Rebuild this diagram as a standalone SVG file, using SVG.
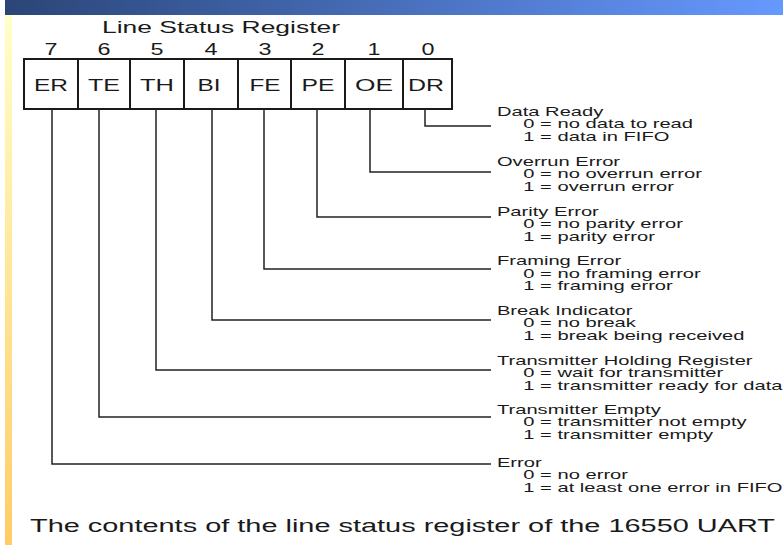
<svg xmlns="http://www.w3.org/2000/svg" width="783" height="545" viewBox="0 0 783 545">
<defs>
<linearGradient id="topbar" x1="0" y1="0" x2="1" y2="0">
<stop offset="0" stop-color="#2b4577"/>
<stop offset="1" stop-color="#6699ff"/>
</linearGradient>
<linearGradient id="side" x1="0" y1="0" x2="0" y2="1">
<stop offset="0" stop-color="#ffffc8"/>
<stop offset="1" stop-color="#ffcc66"/>
</linearGradient>
<style>
text{font-family:"Liberation Sans",Arial,Helvetica,sans-serif;fill:#1a1a1a}
.cell{fill:none;stroke:#1a1a1a;stroke-width:2}
.cl{font-size:17px;text-anchor:middle}
.bit{font-size:16px;text-anchor:middle}
.ttl{font-size:17px}
.d{font-size:12px}
.cap{font-size:18px}
.conn path{fill:none;stroke:#222;stroke-width:1.5}
</style>
</defs>
<rect width="783" height="545" fill="#ffffff"/>
<rect x="5" y="0" width="778" height="15" fill="url(#topbar)"/>
<rect x="5" y="15" width="7" height="530" fill="url(#side)"/>

<g id="title"><text class="ttl" x="102" y="33" textLength="238" lengthAdjust="spacingAndGlyphs">Line Status Register</text></g>

<g id="bit-numbers">
<text class="bit" x="51" y="55" textLength="13" lengthAdjust="spacingAndGlyphs">7</text>
<text class="bit" x="104" y="55" textLength="13" lengthAdjust="spacingAndGlyphs">6</text>
<text class="bit" x="157" y="55" textLength="13" lengthAdjust="spacingAndGlyphs">5</text>
<text class="bit" x="211" y="55" textLength="13" lengthAdjust="spacingAndGlyphs">4</text>
<text class="bit" x="265" y="55" textLength="13" lengthAdjust="spacingAndGlyphs">3</text>
<text class="bit" x="318" y="55" textLength="13" lengthAdjust="spacingAndGlyphs">2</text>
<text class="bit" x="374" y="55" textLength="13" lengthAdjust="spacingAndGlyphs">1</text>
<text class="bit" x="428" y="55" textLength="13" lengthAdjust="spacingAndGlyphs">0</text>
</g>

<g id="cell-ER"><rect class="cell" x="24" y="59" width="54" height="50"/><text class="cl" x="51" y="91" textLength="34" lengthAdjust="spacingAndGlyphs">ER</text></g>
<g id="cell-TE"><rect class="cell" x="78" y="59" width="52" height="50"/><text class="cl" x="104" y="91" textLength="32" lengthAdjust="spacingAndGlyphs">TE</text></g>
<g id="cell-TH"><rect class="cell" x="130" y="59" width="54" height="50"/><text class="cl" x="157" y="91" textLength="34" lengthAdjust="spacingAndGlyphs">TH</text></g>
<g id="cell-BI"><rect class="cell" x="184" y="59" width="54" height="50"/><text class="cl" x="209" y="91" textLength="23" lengthAdjust="spacingAndGlyphs">BI</text></g>
<g id="cell-FE"><rect class="cell" x="238" y="59" width="53" height="50"/><text class="cl" x="265" y="91" textLength="31" lengthAdjust="spacingAndGlyphs">FE</text></g>
<g id="cell-PE"><rect class="cell" x="291" y="59" width="54" height="50"/><text class="cl" x="318" y="91" textLength="33" lengthAdjust="spacingAndGlyphs">PE</text></g>
<g id="cell-OE"><rect class="cell" x="345" y="59" width="58" height="50"/><text class="cl" x="374" y="91" textLength="38" lengthAdjust="spacingAndGlyphs">OE</text></g>
<g id="cell-DR"><rect class="cell" x="403" y="59" width="49" height="50"/><text class="cl" x="426" y="91" textLength="36" lengthAdjust="spacingAndGlyphs">DR</text></g>

<g id="connectors" class="conn">
<path d="M425 109 V126 H491"/>
<path d="M370 109 V172 H491"/>
<path d="M317 109 V217 H491"/>
<path d="M264 109 V269 H491"/>
<path d="M212 109 V320 H491"/>
<path d="M156 109 V370 H491"/>
<path d="M99 109 V417 H491"/>
<path d="M52 109 V464 H491"/>
</g>

<g id="desc-DR" transform="scale(1.68 1)">
<text class="d" x="295.8" y="116">Data Ready</text>
<text class="d" x="311.5" y="128.5">0 = no data to read</text>
<text class="d" x="311.5" y="141">1 = data in FIFO</text>
</g>
<g id="desc-OE" transform="scale(1.68 1)">
<text class="d" x="295.8" y="166">Overrun Error</text>
<text class="d" x="311.5" y="178.5">0 = no overrun error</text>
<text class="d" x="311.5" y="191">1 = overrun error</text>
</g>
<g id="desc-PE" transform="scale(1.68 1)">
<text class="d" x="295.8" y="216">Parity Error</text>
<text class="d" x="311.5" y="228.5">0 = no parity error</text>
<text class="d" x="311.5" y="241">1 = parity error</text>
</g>
<g id="desc-FE" transform="scale(1.68 1)">
<text class="d" x="295.8" y="265.5">Framing Error</text>
<text class="d" x="311.5" y="278">0 = no framing error</text>
<text class="d" x="311.5" y="290.5">1 = framing error</text>
</g>
<g id="desc-BI" transform="scale(1.68 1)">
<text class="d" x="295.8" y="315">Break Indicator</text>
<text class="d" x="311.5" y="327.5">0 = no break</text>
<text class="d" x="311.5" y="340">1 = break being received</text>
</g>
<g id="desc-TH" transform="scale(1.68 1)">
<text class="d" x="295.8" y="365">Transmitter Holding Register</text>
<text class="d" x="311.5" y="377.5">0 = wait for transmitter</text>
<text class="d" x="311.5" y="390">1 = transmitter ready for data</text>
</g>
<g id="desc-TE" transform="scale(1.68 1)">
<text class="d" x="295.8" y="414">Transmitter Empty</text>
<text class="d" x="311.5" y="426.5">0 = transmitter not empty</text>
<text class="d" x="311.5" y="439">1 = transmitter empty</text>
</g>
<g id="desc-ER" transform="scale(1.68 1)">
<text class="d" x="295.8" y="467">Error</text>
<text class="d" x="311.5" y="479.5">0 = no error</text>
<text class="d" x="311.5" y="492">1 = at least one error in FIFO</text>
</g>

<g id="caption"><text class="cap" x="30" y="532" textLength="745" lengthAdjust="spacingAndGlyphs">The contents of the line status register of the 16550 UART</text></g>
</svg>
